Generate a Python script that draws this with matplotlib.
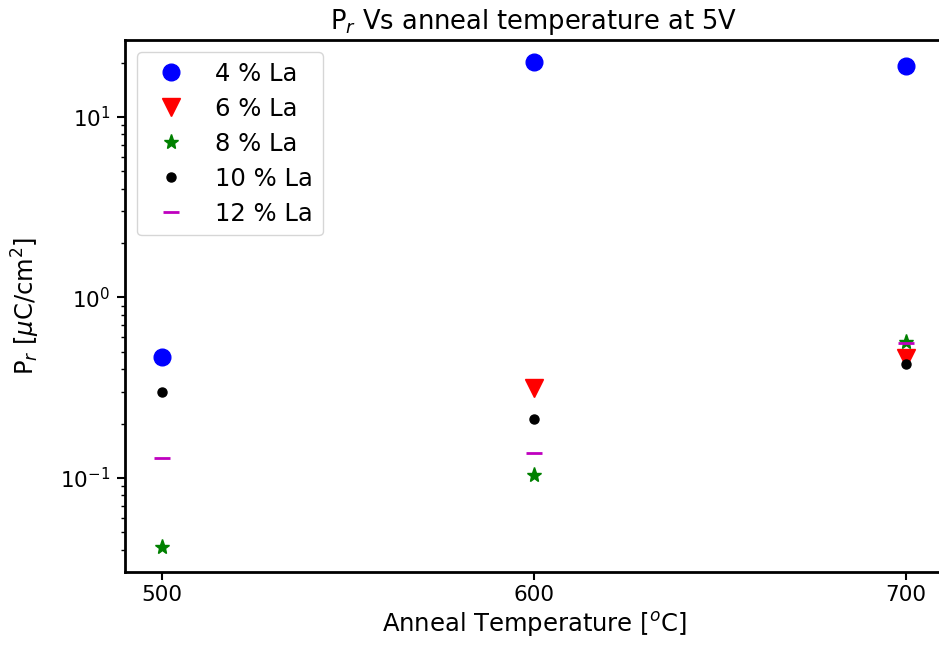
import matplotlib
matplotlib.use("Agg")
import matplotlib.pyplot as plt
import numpy as np

temps = [500, 600, 700]
pr_4 = [0.465, 20.2, 19.2]
pr_6 = [np.nan, 0.317, 0.46]
pr_8 = [0.0415, 0.104, 0.57]
pr_10 = [0.301, 0.213, 0.43]
pr_12 = [0.129, 0.138, 0.556]

fig = plt.figure(figsize=(9.39, 6.53), dpi=100)
ax = fig.add_axes([0.1331, 0.124, 0.8712, 0.8147])

ax.plot(temps, pr_4, 'o', color='b', ms=12, label='4 % La', linestyle='none')
ax.plot(temps, pr_6, 'v', color='r', ms=12.5, label='6 % La', linestyle='none')
ax.plot(temps, pr_8, '*', color='g', ms=11, label='8 % La', linestyle='none')
ax.plot(temps, pr_10, 'o', color='k', ms=6.5, label='10 % La', linestyle='none')
ax.plot(temps, pr_12, '_', color='m', ms=11, mew=2, label='12 % La', linestyle='none')

ax.set_yscale('log')
ax.set_xlim(490, 710)
ax.set_ylim(0.0301, 26.7)
ax.set_xticks([500, 600, 700])
ax.tick_params(labelsize=15.5, width=1.5, length=5.5)
ax.tick_params(axis='y', pad=5)
ax.tick_params(which='minor', width=1, length=3)
for s in ax.spines.values():
    s.set_linewidth(2)

ax.set_xlabel('Anneal Temperature [$^o$C]', fontsize=17.5, labelpad=4)
ax.set_ylabel('P$_r$ [$\\mu$C/cm$^2$]', fontsize=17.5, labelpad=13)
ax.set_title('P$_r$ Vs anneal temperature at 5V', fontsize=18.5, pad=8)
ax.legend(loc='upper left', fontsize=17.5, numpoints=1, labelspacing=0.45)

fig.savefig('out.png', dpi=100)
